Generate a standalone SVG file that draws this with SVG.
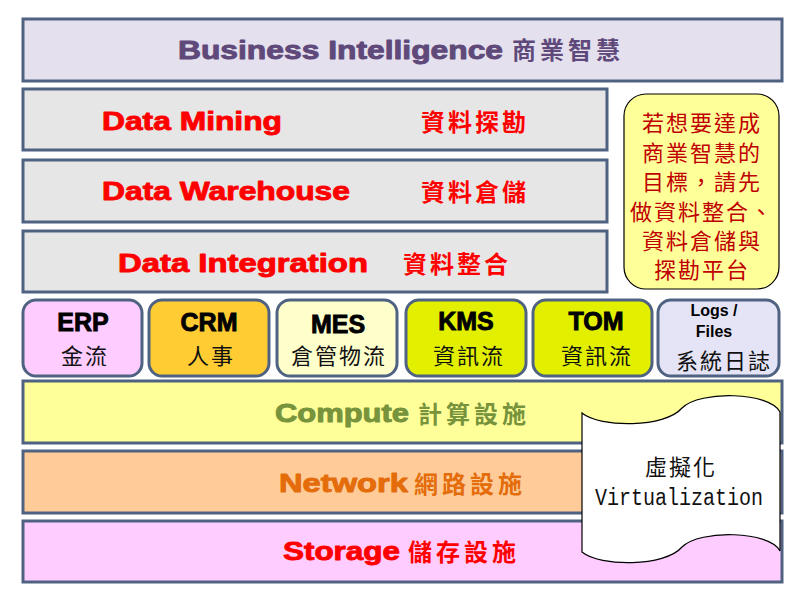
<svg xmlns="http://www.w3.org/2000/svg" width="800" height="600" viewBox="0 0 800 600">
<style>
.layer{stroke:#4f6282;stroke-width:3}
.box{stroke:#4f6282;stroke-width:3}
.en{font-family:"Liberation Sans",Arial,sans-serif;font-weight:bold}
.heavy{stroke-width:0.9px;stroke-linejoin:round}
.cjk{font-family:"Noto Sans CJK TC","Noto Sans CJK SC",sans-serif}
.cjkb{font-family:"Noto Sans CJK TC","Noto Sans CJK SC",sans-serif;font-weight:bold}
.red{fill:#ff0000;stroke:#ff0000}
.lbl{font-family:"Liberation Sans",Arial,sans-serif;font-weight:bold;font-size:25px;fill:#000;stroke:#000;stroke-width:0.9px;text-anchor:middle}
.sub{font-family:"Noto Sans CJK TC","Noto Sans CJK SC",sans-serif;font-size:22px;fill:#111;text-anchor:middle;letter-spacing:2px}
.note{font-family:"Noto Sans CJK TC","Noto Sans CJK SC",sans-serif;font-size:22px;fill:#c00000;text-anchor:middle;letter-spacing:2px}
</style>
<rect width="800" height="600" fill="#ffffff"/>

<g id="bi">
<rect class="layer" x="23" y="19" width="759" height="62" fill="#e4e0ee"/>
<text class="en heavy" x="178" y="59" font-size="25" fill="#5f497a" stroke="#5f497a" textLength="325" lengthAdjust="spacingAndGlyphs">Business Intelligence</text>
<text class="cjkb" x="512" y="59" font-size="24" fill="#5f497a" letter-spacing="4">商業智慧</text>
</g>

<g id="data-mining">
<rect class="layer" x="23" y="89" width="584" height="61" fill="#e6e6e6"/>
<text class="en heavy red" x="102" y="130" font-size="25" textLength="180" lengthAdjust="spacingAndGlyphs">Data Mining</text>
<text class="cjkb" fill="#ff0000" x="421" y="131" font-size="24" letter-spacing="3">資料探勘</text>
</g>

<g id="data-warehouse">
<rect class="layer" x="23" y="160" width="584" height="62" fill="#e6e6e6"/>
<text class="en heavy red" x="102" y="200" font-size="25" textLength="248" lengthAdjust="spacingAndGlyphs">Data Warehouse</text>
<text class="cjkb" fill="#ff0000" x="421" y="201" font-size="24" letter-spacing="3">資料倉儲</text>
</g>

<g id="data-integration">
<rect class="layer" x="23" y="231" width="584" height="61" fill="#e6e6e6"/>
<text class="en heavy red" x="118" y="272" font-size="25" textLength="250" lengthAdjust="spacingAndGlyphs">Data Integration</text>
<text class="cjkb" fill="#ff0000" x="403" y="273" font-size="24" letter-spacing="3">資料整合</text>
</g>

<g id="callout">
<rect x="624" y="94" width="155" height="195" rx="22" ry="22" fill="#ffff99" stroke="#000" stroke-width="1.2"/>
<text class="note" x="702" y="131">若想要達成</text>
<text class="note" x="702" y="161">商業智慧的</text>
<text class="note" x="702" y="190">目標，請先</text>
<text class="note" x="702" y="220">做資料整合、</text>
<text class="note" x="702" y="249">資料倉儲與</text>
<text class="note" x="702" y="278">探勘平台</text>
</g>

<g id="erp">
<rect class="box" x="23" y="300" width="119" height="76" rx="13" fill="#ffccff"/>
<text class="lbl" x="83" y="331">ERP</text>
<text class="sub" x="85" y="364">金流</text>
</g>
<g id="crm">
<rect class="box" x="149" y="300" width="120" height="76" rx="13" fill="#ffcc33"/>
<text class="lbl" x="209" y="331">CRM</text>
<text class="sub" x="211" y="364">人事</text>
</g>
<g id="mes">
<rect class="box" x="277" y="300" width="120" height="76" rx="13" fill="#ffffcc"/>
<text class="lbl" x="338" y="333" font-size="24">MES</text>
<text class="sub" x="339" y="364">倉管物流</text>
</g>
<g id="kms">
<rect class="box" x="406" y="300" width="120" height="76" rx="13" fill="#e2f000"/>
<text class="lbl" x="466" y="330">KMS</text>
<text class="sub" x="469" y="364">資訊流</text>
</g>
<g id="tom">
<rect class="box" x="533" y="300" width="119" height="76" rx="13" fill="#e2f000"/>
<text class="lbl" x="596" y="330">TOM</text>
<text class="sub" x="597" y="364">資訊流</text>
</g>
<g id="logs">
<rect class="box" x="658" y="300" width="121" height="76" rx="13" fill="#e4e4f6"/>
<text class="en" x="714" y="316" font-size="16" text-anchor="middle">Logs /</text>
<text class="en" x="714" y="337" font-size="16" text-anchor="middle">Files</text>
<text class="sub" x="724" y="369">系統日誌</text>
</g>

<g id="compute">
<rect class="layer" x="23" y="381" width="759" height="62" fill="#ffff99"/>
<text class="en heavy" x="275" y="422" font-size="25" fill="#77933c" stroke="#77933c" textLength="134" lengthAdjust="spacingAndGlyphs">Compute</text>
<text class="cjkb" x="418" y="423" font-size="24" fill="#77933c" letter-spacing="4">計算設施</text>
</g>

<g id="network">
<rect class="layer" x="23" y="451" width="759" height="62" fill="#ffcc99"/>
<text class="en heavy" x="279" y="492" font-size="25" fill="#e46c0a" stroke="#e46c0a" textLength="129" lengthAdjust="spacingAndGlyphs">Network</text>
<text class="cjkb" x="414" y="493" font-size="24" fill="#e46c0a" letter-spacing="4">網路設施</text>
</g>

<g id="storage">
<rect class="layer" x="23" y="521" width="759" height="61" fill="#ffccff"/>
<text class="en heavy red" x="283" y="560" font-size="25" textLength="117" lengthAdjust="spacingAndGlyphs">Storage</text>
<text class="cjkb" fill="#ff0000" x="408" y="561" font-size="24" letter-spacing="4">儲存設施</text>
</g>

<g id="virtualization">
<path d="M582,413 C600,428 665,428 682,408 C700,390 770,392 780,412 L780,551 C770,531 700,529 682,547 C665,567 600,567 582,552 Z" fill="#ffffff" stroke="#000" stroke-width="1.2"/>
<text class="cjk" x="681" y="475" font-size="22" fill="#111" text-anchor="middle" letter-spacing="2">虛擬化</text>
<text x="595" y="505" font-family="Liberation Mono,'Courier New',monospace" font-size="23" fill="#111" textLength="168" lengthAdjust="spacingAndGlyphs">Virtualization</text>
</g>

<g id="connectors"/>
</svg>
